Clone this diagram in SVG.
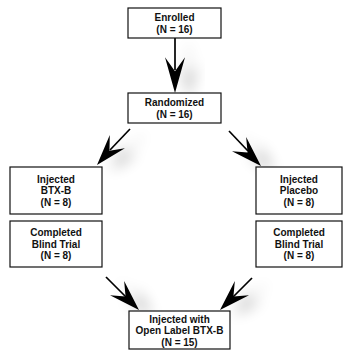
<svg xmlns="http://www.w3.org/2000/svg" xmlns:xlink="http://www.w3.org/1999/xlink" width="343" height="360" viewBox="0 0 343 360">
<style>
.box{fill:#fff;stroke:#111;stroke-width:1.2}
.t{font-family:"Liberation Sans",Arial,sans-serif;font-weight:bold;font-size:10px;fill:#111;text-anchor:middle}
.ln{stroke:#000;stroke-width:1.7;fill:none}
.hd{fill:#000}
</style>
<defs>
<filter id="sh" x="-100%" y="-100%" width="300%" height="300%">
<feGaussianBlur in="SourceAlpha" stdDeviation="7"/>
<feOffset dx="14" dy="6" result="b"/>
<feComponentTransfer><feFuncA type="linear" slope="0.22"/></feComponentTransfer>
<feMerge><feMergeNode/><feMergeNode in="SourceGraphic"/></feMerge>
</filter>
<path id="ah" d="M0,0 L-31,-10 L-19,0 L-31,10 Z"/>
</defs>
<rect width="343" height="360" fill="#fff"/>
<g id="connectors">
<g filter="url(#sh)">
<line class="ln" x1="175" y1="38" x2="175" y2="70"/>
<use xlink:href="#ah" class="hd" transform="translate(175,93) rotate(90) scale(1.15,1)"/>
</g>
<g filter="url(#sh)">
<line class="ln" x1="130" y1="129" x2="110" y2="150"/>
<use xlink:href="#ah" class="hd" transform="translate(97,165) rotate(131)"/>
</g>
<g filter="url(#sh)">
<line class="ln" x1="229" y1="131" x2="248" y2="151"/>
<use xlink:href="#ah" class="hd" transform="translate(261,166) rotate(45)"/>
</g>
<g filter="url(#sh)">
<line class="ln" x1="106" y1="277" x2="126" y2="297"/>
<use xlink:href="#ah" class="hd" transform="translate(139,310) rotate(45)"/>
</g>
<g filter="url(#sh)">
<line class="ln" x1="252" y1="278" x2="233" y2="297"/>
<use xlink:href="#ah" class="hd" transform="translate(220,310) rotate(135)"/>
</g>
</g>
<g id="enrolled">
<rect class="box" x="128" y="8" width="93" height="30"/>
<text class="t" x="174.5" y="20.5">Enrolled</text>
<text class="t" x="174.5" y="32.5">(N = 16)</text>
</g>
<g id="randomized">
<rect class="box" x="128" y="93" width="93" height="30"/>
<text class="t" x="174.5" y="105.5">Randomized</text>
<text class="t" x="174.5" y="117.5">(N = 16)</text>
</g>
<g id="injected-btxb">
<rect class="box" x="10" y="167" width="92" height="47"/>
<text class="t" x="56" y="182.5">Injected</text>
<text class="t" x="56" y="194">BTX-B</text>
<text class="t" x="56" y="205.5">(N = 8)</text>
</g>
<g id="completed-left">
<rect class="box" x="10" y="221" width="92" height="46"/>
<text class="t" x="56" y="236">Completed</text>
<text class="t" x="56" y="247.5">Blind Trial</text>
<text class="t" x="56" y="259">(N = 8)</text>
</g>
<g id="injected-placebo">
<rect class="box" x="256" y="167" width="86" height="47"/>
<text class="t" x="299" y="182.5">Injected</text>
<text class="t" x="299" y="194">Placebo</text>
<text class="t" x="299" y="205.5">(N = 8)</text>
</g>
<g id="completed-right">
<rect class="box" x="256" y="221" width="86" height="46"/>
<text class="t" x="299" y="236">Completed</text>
<text class="t" x="299" y="247.5">Blind Trial</text>
<text class="t" x="299" y="259">(N = 8)</text>
</g>
<g id="open-label">
<rect class="box" x="129" y="311" width="101" height="38"/>
<text class="t" x="179.5" y="322.5">Injected with</text>
<text class="t" x="179.5" y="334">Open Label BTX-B</text>
<text class="t" x="179.5" y="345.5">(N = 15)</text>
</g>
</svg>
